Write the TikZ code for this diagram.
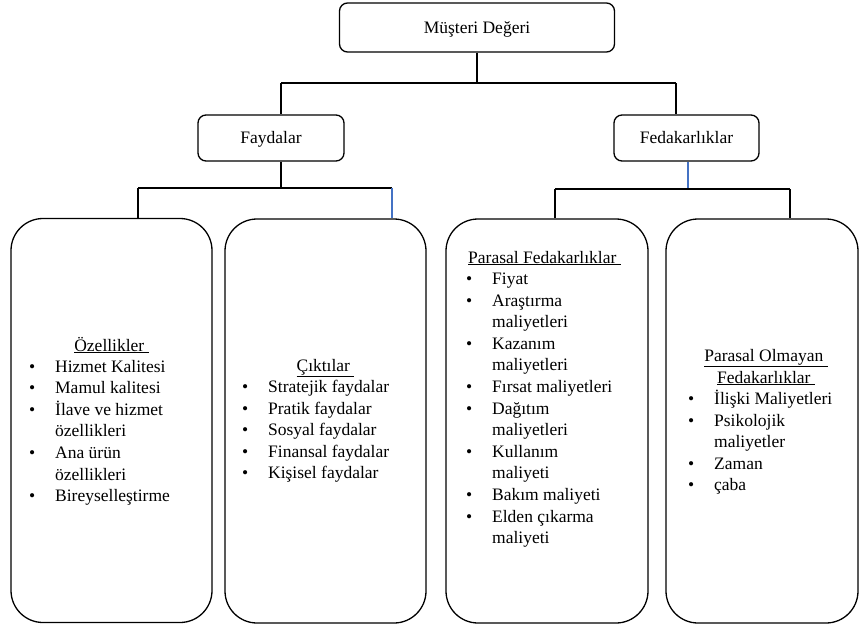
\documentclass[tikz,border=0pt]{standalone}
\usepackage{fontspec}
\setmainfont{Liberation Serif}
\newcommand\txtsize{\fontsize{17.5pt}{21.6pt}\selectfont}
\newcommand\bul{\makebox[26pt][l]{\textbullet}}
\definecolor{linkblue}{HTML}{4472C4}
\begin{document}
\begin{tikzpicture}[x=1pt,y=-1pt,
  font=\txtsize,
  smallbox/.style={draw,line width=1.3pt,rounded corners=8pt,inner sep=0pt},
  bigbox/.style={draw,line width=1.3pt,rounded corners=32pt,inner sep=0pt},
  conn/.style={line width=1.3pt},
  bconn/.style={line width=1.1pt,draw=linkblue},
  head/.style={anchor=base,inner sep=0pt},
  items/.style={anchor=base west,inner sep=0pt}
]
\useasboundingbox (0,0) rectangle (860,630);

% top level and second level
\node[smallbox,minimum width=275pt,minimum height=49pt] (md) at (477,27.5) {};
\node[head] (mdt) at (477,33) {Müşteri Değeri};
\node[smallbox,minimum width=146pt,minimum height=46pt] (fay) at (271,138) {};
\node[head] (fayt) at (271,143.5) {Faydalar};
\node[smallbox,minimum width=145pt,minimum height=46pt] (fed) at (686.5,138) {};
\node[head] (fedt) at (686.5,143.5) {Fedakarlıklar};

% lower boxes
\node[bigbox,minimum width=201pt,minimum height=404pt] (b1) at (111.5,420.5) {};
\node[bigbox,minimum width=201pt,minimum height=404pt] (b2) at (325.5,421) {};
\node[bigbox,minimum width=202pt,minimum height=404pt] (b3) at (547,421) {};
\node[bigbox,minimum width=192pt,minimum height=404pt] (b4) at (762,421) {};

% connectors from the top box
\coordinate (h1L) at (281,83);
\coordinate (h1R) at (676,83);
\draw[conn] (md.south) -- (md.south |- h1L);
\draw[conn] (h1L) -- (h1R);
\draw[conn] (h1L) -- (h1L |- fay.north);
\draw[conn] (h1R) -- (h1R |- fed.north);

% connectors below Faydalar
\coordinate (h2M) at (281,188);
\coordinate (h2L) at (138,188);
\coordinate (h2R) at (392,188);
\draw[conn] (h2M |- fay.south) -- (h2M);
\draw[conn] (h2L) -- (h2R);
\draw[conn] (h2L) -- (h2L |- b1.north);
\draw[bconn] (h2R) -- (h2R |- b2.north);

% connectors below Fedakarliklar
\coordinate (h3M) at (688,189);
\coordinate (h3L) at (555,189);
\coordinate (h3R) at (790,189);
\draw[bconn] (h3M |- fed.south) -- (h3M);
\draw[conn] (h3L) -- (h3R);
\draw[conn] (h3L) -- (h3L |- b3.north);
\draw[conn] (h3R) -- (h3R |- b4.north);

% box contents
\node[head] (b1h) at (111.5,351) {\underline{Özellikler }};
\node[items] (b1l) at (29,372) {\begin{tabular}[t]{@{}l@{}l@{}}
\bul & Hizmet Kalitesi\\
\bul & Mamul kalitesi\\
\bul & İlave ve hizmet\\
 & özellikleri\\
\bul & Ana ürün\\
 & özellikleri\\
\bul & Bireyselleştirme
\end{tabular}};

\node[head] (b2h) at (325.5,371) {\underline{Çıktılar }};
\node[items] (b2l) at (242,392.5) {\begin{tabular}[t]{@{}l@{}l@{}}
\bul & Stratejik faydalar\\
\bul & Pratik faydalar\\
\bul & Sosyal faydalar\\
\bul & Finansal faydalar\\
\bul & Kişisel faydalar
\end{tabular}};

\node[items] (b3h) at (468,263) {\underline{Parasal Fedakarlıklar }};
\node[items] (b3l) at (466,284.5) {\begin{tabular}[t]{@{}l@{}l@{}}
\bul & Fiyat\\
\bul & Araştırma\\
 & maliyetleri\\
\bul & Kazanım\\
 & maliyetleri\\
\bul & Fırsat maliyetleri\\
\bul & Dağıtım\\
 & maliyetleri\\
\bul & Kullanım\\
 & maliyeti\\
\bul & Bakım maliyeti\\
\bul & Elden çıkarma\\
 & maliyeti
\end{tabular}};

\node[head] (b4h1) at (766,361.5) {\underline{Parasal Olmayan }};
\node[head] (b4h2) at (766,383) {\underline{Fedakarlıklar }};
\node[items] (b4l) at (688,404.5) {\begin{tabular}[t]{@{}l@{}l@{}}
\bul & İlişki Maliyetleri\\
\bul & Psikolojik\\
 & maliyetler\\
\bul & Zaman\\
\bul & çaba
\end{tabular}};
\end{tikzpicture}
\end{document}
